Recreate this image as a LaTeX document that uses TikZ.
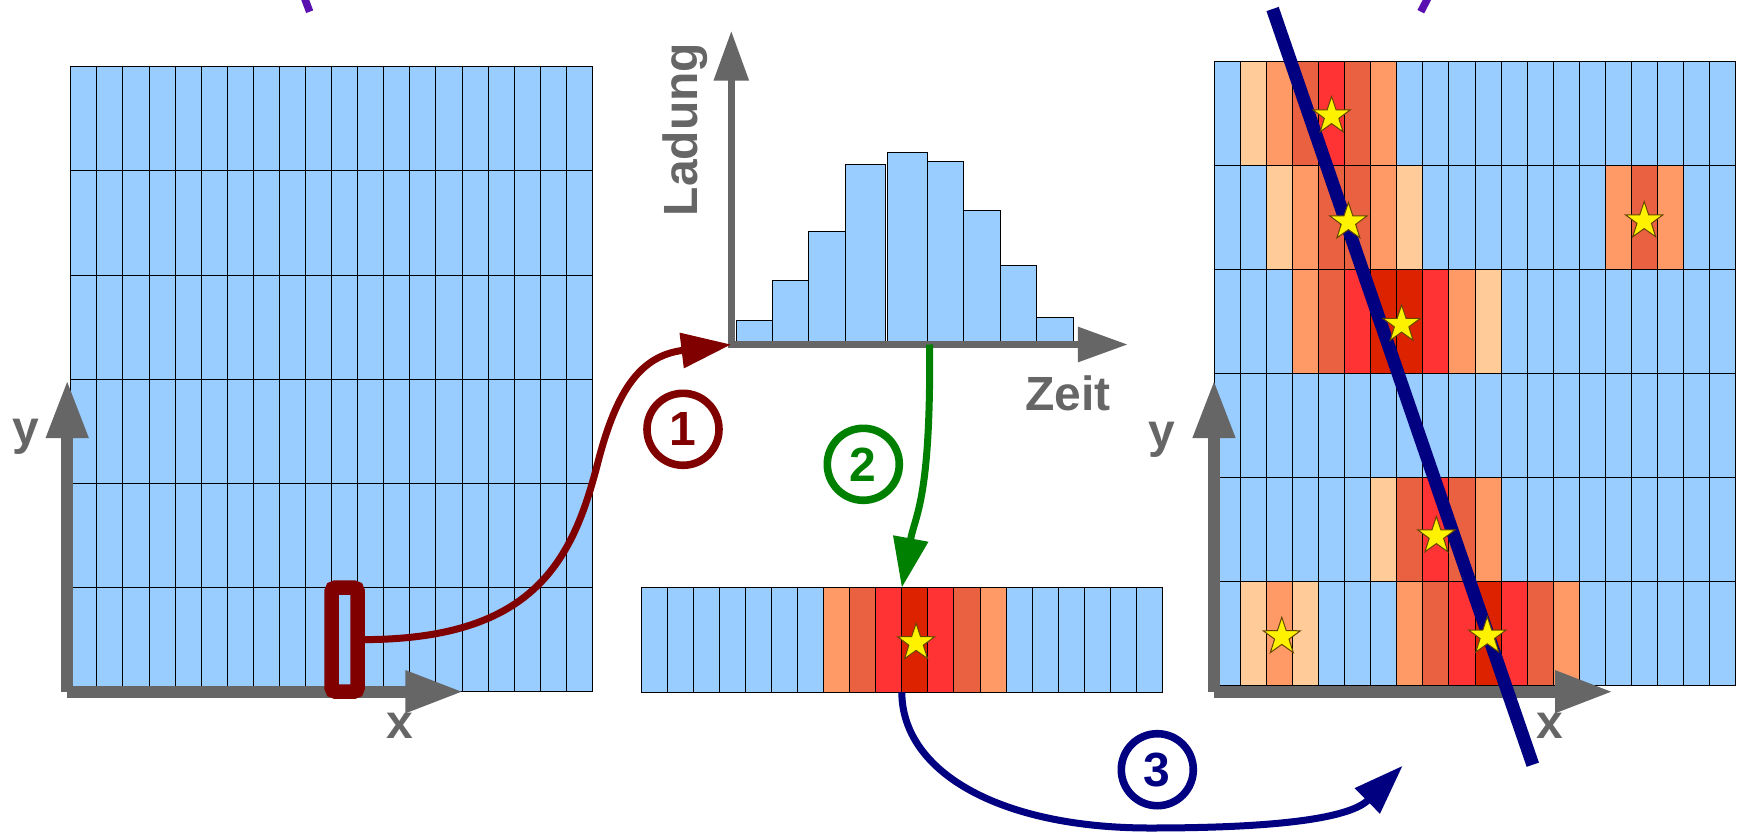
\documentclass[tikz,border=0pt]{standalone}
\usepackage{fontspec}
\setmainfont{Liberation Sans}
\usetikzlibrary{arrows.meta}

% cell colours: blue background, then rising charge levels
\definecolor{cB}{HTML}{99CCFF}
\definecolor{cP}{HTML}{FFCC99}
\definecolor{cL}{HTML}{FF9966}
\definecolor{cD}{HTML}{EA6141}
\definecolor{cR}{HTML}{FF3333}
\definecolor{cK}{HTML}{DD2200}
\definecolor{axgray}{HTML}{666666}
\definecolor{dred}{HTML}{800000}
\definecolor{dgreen}{HTML}{008000}
\definecolor{dnavy}{HTML}{000080}
\definecolor{purp}{HTML}{5A10B0}
\definecolor{starline}{HTML}{644600}

\begin{document}
\begin{tikzpicture}[x=0.5pt,y=-0.5pt,
  lbl/.style={text=axgray, font=\fontsize{24pt}{28pt}\selectfont\bfseries, inner sep=0pt},
  cell/.style={draw=black, line width=0.5pt},
  bigaxis/.style={draw=axgray, line width=5.9pt, -{Triangle[length=29pt,width=19.75pt]}},
  histaxis/.style={draw=axgray, line width=3.75pt, -{Triangle[length=25pt,width=16.75pt]}},
  flow/.style={line width=3.5pt, -{Triangle[length=25pt,width=17pt]}},
  stepmark/.style={circle, line width=3.8pt, minimum size=36pt, inner sep=0pt,
                   font=\fontsize{24pt}{28pt}\selectfont\bfseries},
  starmk/.pic={\filldraw[fill=yellow, draw=starline, line width=0.5pt, line join=miter]
     (-90:19.5) -- (-54:7.6) -- (-18:19.5) -- (18:7.6) -- (54:19.5) -- (90:7.6)
     -- (126:19.5) -- (162:7.6) -- (198:19.5) -- (234:7.6) -- cycle;}
]
\useasboundingbox (0,0) rectangle (1737,831);

% ---- left detector plane: 20 x 6 empty cells
\foreach \r in {0,...,5}{
  \foreach \i in {0,...,19}{
    \filldraw[cell, fill=cB] ({70.8+\i*26.08},{66.7+\r*104.17}) rectangle ++(26.08,104.17);
  }
}
\coordinate (LO) at (67.2,691.7);
\coordinate (Ltop) at (67.2,380);
\coordinate (Lright) at (463.4,691.7);
\draw[bigaxis] (LO) -- (Ltop);
\draw[bigaxis] (LO) -- (Lright);
\node[lbl, anchor=base] (ly) at (26,444) {y};
\node[lbl, anchor=base] (lx) at (399.4,738.3) {x};

% selected cell
\node[draw=dred, line width=7.25pt, rounded corners=2pt, minimum width=13.05pt,
      minimum height=52.1pt, inner sep=0pt] (sel) at (344.65,639.6) {};

% ---- charge over time histogram
\foreach \a/\b/\t in {736.4/772.5/320.3, 772.5/808.9/280.7, 808.9/845.7/231,
                      845.7/885.7/164.3, 887.5/927.1/152, 927.1/963.6/161,
                      963.6/1000.4/210, 1000.4/1036.8/265.3, 1036.8/1073.2/317}{
  \filldraw[cell, fill=cB] (\a,344.5) rectangle (\b,\t);
}
\coordinate (HO) at (731.3,344.5);
\coordinate (peak) at (929.6,344.5);
\draw[histaxis] (731.3,348.2) -- (731.3,30.7);
\draw[histaxis] (727.6,344.5) -- (1127.9,344.5);
\node[lbl, rotate=90] (ladung) at (685,129.5) {Ladung};
\node[lbl, anchor=base] (zeit) at (1068.3,410) {Zeit};

% ---- one row of cells after time fit
\foreach \c [count=\i from 0] in {B,B,B,B,B,B,B,L,D,R,K,R,D,L,B,B,B,B,B,B}{
  \filldraw[cell, fill=c\c] ({641+\i*26.08},587.7) rectangle ++(26.08,104.6);
}
\node[minimum width=260.8pt, minimum height=52.3pt, inner sep=0pt, outer sep=0pt] (strip) at (901.8,640) {};
\pic at (916.1,642.8) {starmk};

% ---- right detector plane with hits
\foreach \r/\cols in {0/{B,P,L,D,R,D,L,B,B,B,B,B,B,B,B,B,B,B,B,B},
                      1/{B,B,P,L,D,D,L,P,B,B,B,B,B,B,B,L,D,L,B,B},
                      2/{B,B,B,L,D,R,K,K,R,L,P,B,B,B,B,B,B,B,B,B},
                      3/{B,B,B,B,B,B,B,B,B,B,B,B,B,B,B,B,B,B,B,B},
                      4/{B,B,B,B,B,B,P,D,R,D,L,B,B,B,B,B,B,B,B,B},
                      5/{B,P,L,P,B,B,B,L,D,R,K,R,D,L,B,B,B,B,B,B}}{
  \foreach \c [count=\i from 0] in \cols{
    \filldraw[cell, fill=c\c] ({1214.4+\i*26.06},{61+\r*104.1}) rectangle ++(26.06,104.1);
  }
}
\coordinate (RO) at (1214,691.7);
\coordinate (Rtop) at (1214,380);
\coordinate (Rright) at (1613,691.7);
\draw[bigaxis] (RO) -- (Rtop);
\draw[bigaxis] (RO) -- (Rright);
\node[lbl, anchor=base] (ry) at (1161.5,447) {y};
\node[lbl, anchor=base] (rx) at (1549.7,738.3) {x};

% fitted track
\coordinate (fitA) at (1272.6,9);
\coordinate (fitB) at (1532.8,764.7);
\draw[dnavy, line width=6.5pt] (fitA) -- (fitB);

\foreach \sx/\sy in {1331.6/116, 1348.4/222, 1644.2/221, 1401.6/324.5,
                     1436.4/536, 1281.8/636.8, 1487.3/636.2}{
  \pic at (\sx,\sy) {starmk};
}

% ---- purple bracket ends at the top edge
\draw[purp, line width=3.75pt] (303,-6) .. controls (306,3) .. (309.7,11.7);
\draw[purp, line width=3.75pt] (1430,-6) .. controls (1425,3) .. (1420.8,11.7);

% ---- processing steps
\node[stepmark, draw=dred, text=dred] (n1) at (683,429.3) {1};
\node[stepmark, draw=dgreen, text=dgreen] (n2) at (863.3,464.3) {2};
\node[stepmark, draw=dnavy, text=dnavy] (n3) at (1157.3,769.7) {3};

\coordinate (fitend) at (1402.7,765.7);
\draw[flow, dred] (sel.east) .. controls (535.7,639) and (573,559) .. (598,462)
      .. controls (616.75,389.25) and (641.1,355.4) .. (HO);
\draw[flow, dgreen] (peak) .. controls (931,500) and (915,515) .. (strip.north);
\draw[flow, dnavy] (strip.south) .. controls (902.3,772.3) and (1000,828) .. (1150,828)
      .. controls (1250,828) and (1346,822.1) .. (fitend);
\end{tikzpicture}
\end{document}
